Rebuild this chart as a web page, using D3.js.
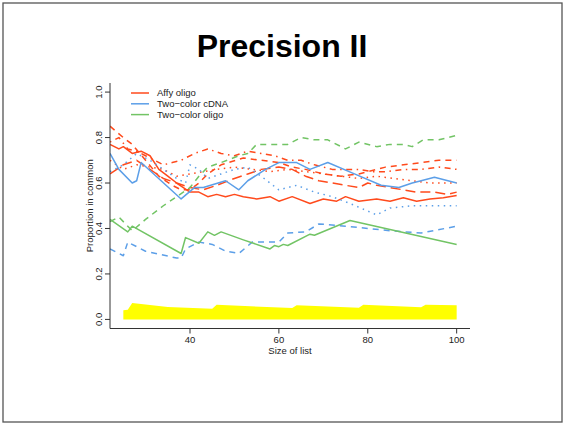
<!DOCTYPE html>
<html>
<head>
<meta charset="utf-8">
<script src="https://cdn.jsdelivr.net/npm/d3@7"></script>
<style>
  body { margin: 0; background: #fff; }
  svg { display: block; font-family: "Liberation Sans", Arial, Helvetica, sans-serif; }
</style>
</head>
<body>
<script>
// chart data
var title = "Precision II";
var xLabel = "Size of list";
var yLabel = "Proportion in common";
var xTicks = [40, 60, 80, 100];
var yTicks = [0, 0.2, 0.4, 0.6, 0.8, 1.0];
var platforms = ["Affy oligo", "Two\u2212color cDNA", "Two\u2212color oligo"];
var platformColors = ["#ff4a1c", "#5c9fe8", "#72c465"];

// chance level band (yellow)
var chanceX = [25, 26, 27, 35, 45, 46, 63, 64, 78, 79, 92, 93, 100];
var chanceY = [0.040, 0.042, 0.072, 0.055, 0.047, 0.064, 0.050, 0.062, 0.051, 0.064, 0.054, 0.064, 0.062];

// Affy oligo
var affySolidX = [22, 24, 25, 27, 29, 31, 33, 35, 37, 40, 42, 44, 46, 48, 50, 52, 55, 58, 60, 63, 67, 70, 73, 75, 78, 82, 85, 88, 91, 94, 97, 100];
var affySolidY = [0.77, 0.75, 0.76, 0.73, 0.74, 0.72, 0.66, 0.63, 0.60, 0.56, 0.56, 0.54, 0.55, 0.54, 0.55, 0.54, 0.53, 0.54, 0.52, 0.54, 0.51, 0.53, 0.52, 0.54, 0.52, 0.53, 0.52, 0.535, 0.52, 0.53, 0.535, 0.545];
var affyDashX = [22, 25, 27, 30, 33, 36, 38, 40, 42, 44, 47, 52, 56, 60, 63, 66, 70, 74, 78, 80, 84, 88, 92, 96, 100];
var affyDashY = [0.85, 0.80, 0.77, 0.70, 0.63, 0.59, 0.57, 0.57, 0.60, 0.64, 0.68, 0.71, 0.70, 0.69, 0.67, 0.66, 0.64, 0.63, 0.64, 0.65, 0.67, 0.68, 0.69, 0.70, 0.70];
var affyDotDashX = [22, 24, 26, 28, 30, 32, 34, 36, 38, 41, 44, 47, 50, 53, 56, 59, 62, 65, 68, 72, 75, 78, 81, 84, 88, 92, 96, 100];
var affyDotDashY = [0.78, 0.80, 0.75, 0.74, 0.72, 0.70, 0.68, 0.69, 0.70, 0.73, 0.75, 0.73, 0.72, 0.74, 0.73, 0.72, 0.70, 0.70, 0.68, 0.66, 0.66, 0.66, 0.65, 0.65, 0.66, 0.66, 0.67, 0.66];
var affyDotX = [22, 25, 28, 31, 34, 37, 40, 43, 46, 50, 54, 58, 62, 66, 70, 74, 78, 82, 86, 90, 94, 97, 100];
var affyDotY = [0.70, 0.66, 0.68, 0.67, 0.66, 0.63, 0.64, 0.65, 0.66, 0.67, 0.66, 0.65, 0.66, 0.65, 0.64, 0.63, 0.62, 0.63, 0.62, 0.61, 0.60, 0.60, 0.60];
var affyLongX = [22, 25, 28, 31, 34, 37, 40, 43, 46, 50, 53, 56, 60, 63, 66, 69, 72, 75, 78, 80, 82, 85, 88, 91, 95, 98, 100];
var affyLongY = [0.64, 0.68, 0.70, 0.66, 0.62, 0.60, 0.58, 0.57, 0.59, 0.62, 0.64, 0.66, 0.67, 0.66, 0.63, 0.61, 0.60, 0.59, 0.58, 0.60, 0.59, 0.58, 0.57, 0.56, 0.56, 0.55, 0.56];

// Two-color cDNA
var cdnaSolidX = [22, 24, 27, 28, 29, 38, 41, 43, 48, 51, 53, 57, 60, 62, 64, 67, 71, 77, 83, 87, 90, 92, 95, 100];
var cdnaSolidY = [0.73, 0.66, 0.60, 0.61, 0.69, 0.53, 0.58, 0.58, 0.61, 0.57, 0.61, 0.66, 0.69, 0.69, 0.69, 0.66, 0.69, 0.64, 0.59, 0.58, 0.60, 0.61, 0.625, 0.60];
var cdnaDashX = [22, 25, 26, 30, 37, 38, 39, 42, 45, 48, 51, 54, 60, 62, 66, 69, 75, 80, 85, 92, 100];
var cdnaDashY = [0.31, 0.28, 0.34, 0.30, 0.27, 0.27, 0.31, 0.34, 0.33, 0.30, 0.29, 0.34, 0.34, 0.38, 0.385, 0.42, 0.41, 0.40, 0.39, 0.38, 0.41];
var cdnaDotX = [22, 25, 28, 31, 34, 37, 39, 40, 42, 44, 47, 50, 53, 56, 60, 64, 68, 72, 76, 82, 85, 90, 100];
var cdnaDotY = [0.65, 0.68, 0.73, 0.70, 0.66, 0.62, 0.60, 0.68, 0.66, 0.62, 0.64, 0.66, 0.67, 0.63, 0.57, 0.59, 0.56, 0.54, 0.51, 0.46, 0.49, 0.50, 0.50];

// Two-color oligo
var oligoSolidX = [22, 26, 27, 38, 39, 42, 44, 45.5, 47, 52, 58, 59, 60, 61, 62, 67, 68, 76, 100];
var oligoSolidY = [0.44, 0.385, 0.41, 0.29, 0.36, 0.335, 0.385, 0.37, 0.385, 0.35, 0.31, 0.325, 0.32, 0.33, 0.325, 0.375, 0.37, 0.435, 0.33];
var oligoDashX = [22, 24, 27, 30, 34, 37, 40, 42, 44, 47, 51, 53, 55, 60, 62, 65, 68, 71, 75, 78, 82, 85, 88, 90, 92.5, 96, 100];
var oligoDashY = [0.43, 0.45, 0.39, 0.44, 0.50, 0.54, 0.58, 0.63, 0.67, 0.69, 0.72, 0.73, 0.77, 0.77, 0.77, 0.80, 0.79, 0.79, 0.75, 0.78, 0.76, 0.77, 0.77, 0.76, 0.79, 0.79, 0.81];

var series = [
  { xs: affySolidX, ys: affySolidY, p: 0, dash: null },
  { xs: affyDashX, ys: affyDashY, p: 0, dash: "6,5" },
  { xs: affyDotDashX, ys: affyDotDashY, p: 0, dash: "1.5,4.5,6,4.5" },
  { xs: affyDotX, ys: affyDotY, p: 0, dash: "1.5,4.5" },
  { xs: affyLongX, ys: affyLongY, p: 0, dash: "10,5" },
  { xs: cdnaSolidX, ys: cdnaSolidY, p: 1, dash: null },
  { xs: cdnaDashX, ys: cdnaDashY, p: 1, dash: "6,5" },
  { xs: cdnaDotX, ys: cdnaDotY, p: 1, dash: "1.5,4.5" },
  { xs: oligoSolidX, ys: oligoSolidY, p: 2, dash: null },
  { xs: oligoDashX, ys: oligoDashY, p: 2, dash: "6,5" }
];

// set the dimensions of the page and plot region
var W = 564, H = 424;
var plot = { left: 110, right: 470, top: 83, bottom: 328.5 };

var svg = d3.select("body").append("svg")
    .attr("width", W)
    .attr("height", H);

// slide frame
svg.append("rect")
    .attr("x", 3).attr("y", 3)
    .attr("width", 559).attr("height", 419)
    .attr("fill", "none")
    .attr("stroke", "#555")
    .attr("stroke-width", 1.3);

svg.append("text")
    .attr("x", 282).attr("y", 57)
    .attr("text-anchor", "middle")
    .attr("font-size", 32)
    .attr("font-weight", "bold")
    .attr("fill", "#000")
    .text(title);

// set the ranges (R style: 4% padding)
var x = d3.scaleLinear().domain([22, 103]).range([plot.left, plot.right]);
var y = d3.scaleLinear().domain([-0.04, 1.04]).range([plot.bottom, plot.top]);

svg.append("clipPath").attr("id", "clip")
    .append("rect")
    .attr("x", plot.left).attr("y", plot.top)
    .attr("width", plot.right - plot.left)
    .attr("height", plot.bottom - plot.top);

var g = svg.append("g").attr("clip-path", "url(#clip)");

// chance band
var band = chanceX.map(function (d, i) { return { x: d, y: chanceY[i] }; });
g.append("path")
    .datum(band)
    .attr("fill", "#ffff00")
    .attr("d", d3.area()
        .x(function (d) { return x(d.x); })
        .y0(y(0))
        .y1(function (d) { return y(d.y); }));

var valueline = d3.line()
    .x(function (d) { return x(d.x); })
    .y(function (d) { return y(d.y); });

series.forEach(function (s) {
    var pts = s.xs.map(function (d, i) { return { x: d, y: s.ys[i] }; });
    g.append("path")
        .datum(pts)
        .attr("fill", "none")
        .attr("stroke", platformColors[s.p])
        .attr("stroke-width", 1.5)
        .attr("stroke-linejoin", "round")
        .attr("stroke-dasharray", s.dash)
        .attr("d", valueline);
});

// axes: L-shaped box
var axisColor = "#333";
svg.append("path")
    .attr("d", "M" + plot.left + "," + plot.top + "V" + plot.bottom + "H" + plot.right)
    .attr("fill", "none")
    .attr("stroke", axisColor)
    .attr("stroke-width", 1);

xTicks.forEach(function (t) {
    svg.append("line")
        .attr("x1", x(t)).attr("x2", x(t))
        .attr("y1", plot.bottom).attr("y2", plot.bottom + 5)
        .attr("stroke", axisColor);
    svg.append("text")
        .attr("x", x(t)).attr("y", plot.bottom + 14.5)
        .attr("text-anchor", "middle")
        .attr("font-size", 9.5)
        .attr("fill", "#222")
        .text(t);
});

yTicks.forEach(function (t) {
    svg.append("line")
        .attr("x1", plot.left - 5).attr("x2", plot.left)
        .attr("y1", y(t)).attr("y2", y(t))
        .attr("stroke", axisColor);
    svg.append("text")
        .attr("transform", "translate(" + (plot.left - 8) + "," + y(t) + ") rotate(-90)")
        .attr("text-anchor", "middle")
        .attr("font-size", 9.5)
        .attr("fill", "#222")
        .text(t.toFixed(1));
});

svg.append("text")
    .attr("x", (plot.left + plot.right) / 2).attr("y", plot.bottom + 25)
    .attr("text-anchor", "middle")
    .attr("font-size", 9.5)
    .attr("fill", "#222")
    .text(xLabel);

svg.append("text")
    .attr("transform", "translate(" + (plot.left - 17) + "," + ((plot.top + plot.bottom) / 2) + ") rotate(-90)")
    .attr("text-anchor", "middle")
    .attr("font-size", 9.5)
    .attr("fill", "#222")
    .text(yLabel);

// legend
var legend = svg.append("g");
platforms.forEach(function (name, i) {
    var ly = 93 + i * 10.8;
    legend.append("line")
        .attr("x1", 131).attr("x2", 149)
        .attr("y1", ly).attr("y2", ly)
        .attr("stroke", platformColors[i])
        .attr("stroke-width", 1.5);
    legend.append("text")
        .attr("x", 157).attr("y", ly + 3.3)
        .attr("font-size", 9.5)
        .attr("fill", "#222")
        .text(name);
});
</script>
</body>
</html>
